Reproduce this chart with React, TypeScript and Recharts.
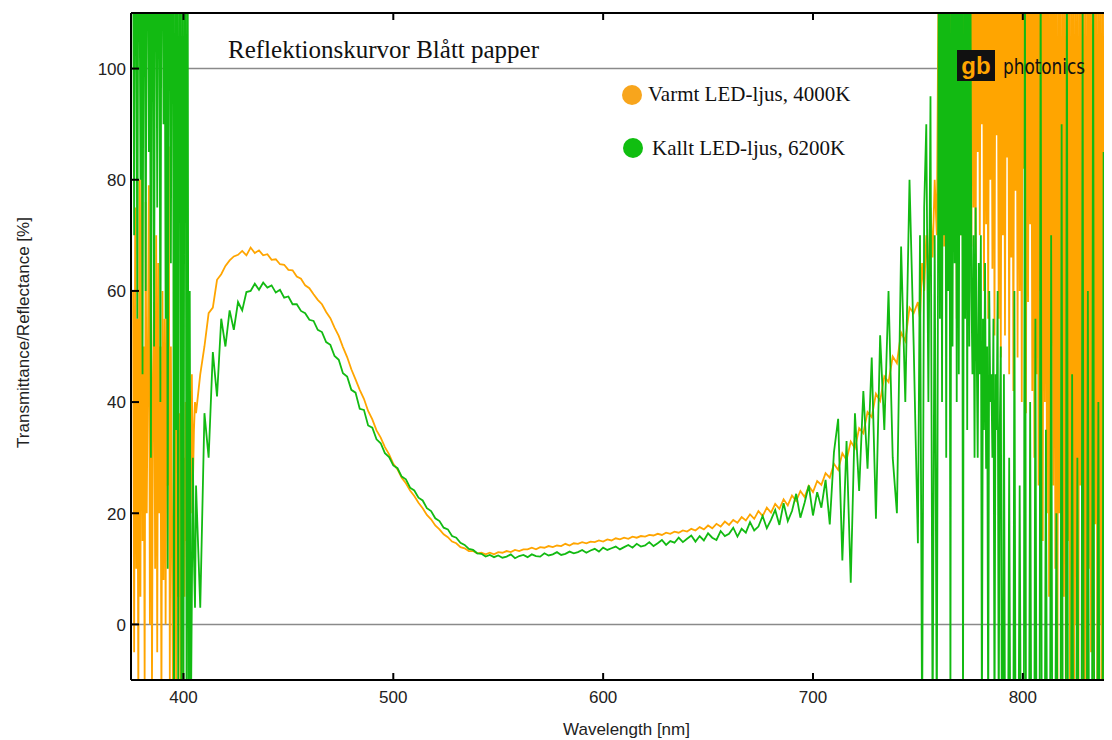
import React from 'react';
import { LineChart, Line, XAxis, YAxis, ReferenceLine } from 'recharts';

// Sampling grid (nm): 376–405.5 every 0.5, 406–748 every 2, 750–759 every 1, 760–842 every 0.5
const segLeft = { start: 376, step: 0.5 };
const segMid = { start: 406, step: 2 };
const segRightA = { start: 750, step: 1 };
const segRightB = { start: 760, step: 0.5 };

// Varmt LED-ljus, 4000K (orange)
const warmLeft = [
  60, -5, 75, 10, 55, -15, 80, 5, 86, 15,
  50, -10, 76, 20, 45, 79, 0, 65, -12, 45,
  58, 10, 70, -5, 65, 20, 50, -15, 60, 8,
  55, 0, 62, 25, 86, -10, 50, 15, -15, 42,
  45, -12, 55, 5, 38, -10, 45, -12, 30, 5,
  40, 15, 35, 8, 42, 20, 45, 25, 35, 40,
];
const warmMid = [
  38, 45, 50, 56, 57, 62, 63, 64.5, 65.5, 66.2,
  66.5, 67.2, 66.4, 67.8, 66.8, 67.3, 66.4, 66.6, 65.6, 65.7,
  64.8, 64.7, 63.8, 63.7, 62.6, 62.2, 61, 60.5, 59.4, 58.4,
  57.6, 56.2, 55.1, 53.4, 51.9, 49.9, 48.1, 45.9, 44.1, 42.2,
  40.6, 38.4, 36.9, 34.9, 33.6, 31.9, 30.6, 28.9, 27.9, 26.4,
  25.4, 24.1, 23.1, 21.9, 20.9, 19.7, 18.9, 17.8, 17.1, 16.2,
  15.7, 14.9, 14.6, 13.9, 13.7, 13.2, 13.2, 12.8, 12.9, 12.6,
  12.9, 12.6, 13, 12.9, 13.2, 13, 13.4, 13.2, 13.5, 13.5,
  13.8, 13.5, 13.9, 13.8, 14.1, 13.9, 14.2, 14.1, 14.5, 14.2,
  14.6, 14.5, 14.8, 14.6, 14.9, 14.8, 15.1, 14.9, 15.3, 15.1,
  15.5, 15.3, 15.6, 15.4, 15.8, 15.6, 15.9, 15.8, 16.1, 16,
  16.3, 16.1, 16.5, 16.3, 16.7, 16.5, 16.9, 16.7, 17.2, 16.9,
  17.5, 17.1, 17.8, 17.3, 18.1, 17.6, 18.5, 17.9, 18.8, 18.3,
  19.3, 18.7, 19.8, 19, 20.4, 19.5, 21, 20.1, 21.7, 20.8,
  22.5, 21.4, 23.2, 22.2, 24, 22.9, 24.9, 23.8, 25.8, 25.1,
  27.2, 26.4, 28.9, 27.8, 30.8, 29.6, 32.9, 31.7, 35.3, 34.4,
  38.2, 37.3, 41.5, 40.2, 44.6, 43.6, 48.2, 47, 52.5, 51,
  57, 56,
];
const warmRightA = [58, 55, 65, 60, 70, 62, 75, 66, 80, 70];
const warmRightB = [
  125, 75, 125, 82, 125, 68, 125, 90, 125, 72,
  125, 60, 125, 85, 125, 78, 125, 55, 125, 88,
  125, 70, 125, 58, 125, 80, 125, 65, 125, 92,
  125, 68, 125, 75, 125, 62, 125, 85, 125, 70,
  125, 90, 125, 60, 125, 72, 125, 55, 125, 80,
  125, 64, 125, 52, 125, 88, 125, 55, 125, 48,
  125, 70, 125, 52, 125, 84, 125, 45, 125, 66,
  125, 42, 125, 78, 125, 48, 125, 60, 125, 40,
  125, 82, 125, 38, 125, 58, 125, 72, 125, 42,
  125, 30, 125, 45, 125, 25, 125, 60, 125, 15,
  125, 40, 125, 20, 125, 5, 125, 50, 125, 25,
  125, 10, 125, -20, 125, 20, 125, -20, 125, 5,
  125, -20, 125, 15, 125, -20, 125, 5, 125, -20,
  125, 0, 125, -20, 125, 25, 125, -10, 125, -20,
  125, -20, 125, 10, 125, -5, 125, -20, 125, 18,
  125, -20, 125, 0, 125, -15, 125, -20, 125, 10,
  125, -20, 125, -15, 125,
];

// Kallt LED-ljus, 6200K (green)
const coldLeft = [
  125, 70, 125, 125, 55, 125, 125, 80, 125, 45,
  125, 125, 60, 125, 125, 85, 125, 30, 125, 125,
  50, 125, 125, 75, 125, 125, 40, 125, 125, 90,
  125, 55, 125, 10, 125, 125, 65, 125, 125, -20,
  125, 35, 125, -20, 125, 125, -20, 125, -20, 125,
  125, -20, 125, -20, 60, -20, 5, 30, 12, 3,
];
const coldMid = [
  25, 3, 38, 30, 49, 41, 55, 50, 56.5, 53,
  58, 56.5, 59.8, 60, 61.3, 60.2, 61.5, 60.6, 61, 59.7,
  60.2, 58.8, 59, 57.6, 57.6, 56.4, 56, 54.8, 54.6, 53,
  52.6, 50.8, 50.3, 48.3, 47.6, 45.2, 44.6, 42.2, 41.7, 38.8,
  38.6, 35.8, 35.4, 33.3, 32.6, 30.8, 30.1, 28.6, 28.1, 26.6,
  26.1, 24.6, 24.1, 22.8, 22.3, 20.9, 20.4, 19.1, 18.6, 17.4,
  17.1, 15.9, 15.6, 14.7, 14.3, 13.6, 13.4, 12.8, 12.7, 12.2,
  12.5, 12.1, 12.4, 12.0, 12.2, 12.6, 11.9, 12.3, 12.5, 12.1,
  12.6, 12.3, 12.2, 12.8, 12.4, 12.6, 13.0, 12.5, 12.7, 13.1,
  12.8, 13.0, 13.4, 12.9, 13.3, 13.6, 13.1, 13.8, 13.4, 13.7,
  14.0, 13.5, 13.9, 14.3, 13.8, 14.5, 14.0, 14.2, 14.8, 14.1,
  14.6, 15.2, 14.3, 15.0, 14.7, 15.6, 14.8, 15.4, 16.0, 14.9,
  15.9, 15.1, 16.4, 15.6, 15.2, 16.8, 15.9, 16.3, 17.4, 15.8,
  17.2, 16.5, 18.4, 16.9, 17.6, 19.5, 17.3, 18.8, 20.6, 17.9,
  21.8, 18.6, 20.4, 23.5, 19.2, 21.9, 25, 19.6, 23.8, 21,
  26, 18, 31, 37, 11.5, 33, 7.5, 38, 24, 42,
  28, 48, 19, 52, 35, 60, 30, 20, 68, 40,
  80, 50,
];
const coldRightA = [14.6, 70, -20, 75, 90, 40, 95, -20, 70, -20];
const coldRightB = [
  125, 55, 125, 40, 125, 70, 125, 30, 125, 60,
  125, -15, 125, 50, 125, 65, 125, 40, 125, 45,
  125, 70, 125, -20, 125, 55, 125, 35, 125, 50,
  125, 60, 45, 70, 30, 75, 50, 30, 65, 45,
  70, -20, 55, 35, 65, 28, 50, -20, 60, 40,
  45, 30, 55, -20, 45, 35, 60, -20, 35, 50,
  -20, -20, 45, -20, -20, -20, -20, 30, -20, -20,
  -20, -20, 60, -20, -20, -20, -20, 25, -20, -20,
  -20, -20, 125, -20, -20, -20, -20, 40, -20, -20,
  -20, -20, 55, -20, -20, -20, -20, 125, -20, -20,
  -20, -20, 35, -20, -20, -20, -20, 70, -20, -20,
  -20, -20, 20, -20, -20, -20, -20, 90, -20, -20,
  -20, -20, 125, -20, -20, -20, -20, 45, -20, -20,
  -20, -20, 30, -20, -20, -20, -20, 110, -20, -20,
  -20, -20, 60, -20, -20, -20, -20, 125, -20, -20,
  -20, -20, 40, -20, -20, -20, -20, 85, -20, -20,
  -20, -20, 125, -20, -20,
];

const xTicks = [400, 500, 600, 700, 800];
const yTicks = [0, 20, 40, 60, 80, 100];
const xDomain: [number, number] = [375, 842.5];
const yDomain: [number, number] = [-10, 110];

const WARM = '#FFA500';
const COLD = '#12BA12';

type Row = { wl: number; warm: number; cold: number };
const data: Row[] = [];
const addSeg = (seg: { start: number; step: number }, warm: number[], cold: number[]) => {
  warm.forEach((v, i) => data.push({ wl: seg.start + seg.step * i, warm: v, cold: cold[i] }));
};
addSeg(segLeft, warmLeft, coldLeft);
addSeg(segMid, warmMid, coldMid);
addSeg(segRightA, warmRightA, coldRightA);
addSeg(segRightB, warmRightB, coldRightB);

const SANS = '"Liberation Sans", Arial, sans-serif';
const SERIF = '"Liberation Serif", "Times New Roman", serif';

const BottomTick = (props: any) => {
  const { x, y, payload } = props;
  return (
    <g>
      <line x1={x} y1={y} x2={x} y2={y - 7} stroke="#000" strokeWidth={2} />
      <text x={x} y={y + 22.7} textAnchor="middle" fontSize={17} fontFamily={SANS} fill="#222">
        {payload.value}
      </text>
    </g>
  );
};

const TopTick = (props: any) => {
  const { x, y } = props;
  return <line x1={x} y1={y} x2={x} y2={y + 7} stroke="#000" strokeWidth={2} />;
};

const LeftTick = (props: any) => {
  const { x, y, payload } = props;
  return (
    <g>
      <line x1={x} y1={y} x2={x + 8} y2={y} stroke="#000" strokeWidth={2} />
      <text x={x - 5} y={y + 6.3} textAnchor="end" fontSize={17} fontFamily={SANS} fill="#222">
        {payload.value}
      </text>
    </g>
  );
};

export default function App() {
  return (
    <div style={{ position: 'relative', width: 1104, height: 732, overflow: 'hidden', background: '#fff' }}>
      <style>{'html,body{overflow:hidden;}'}</style>
      <LineChart width={1104} height={732} data={data} margin={{ top: 4, right: 0, bottom: 0, left: 0 }}>
        <XAxis
          dataKey="wl"
          type="number"
          domain={xDomain}
          allowDataOverflow
          ticks={xTicks}
          height={60}
          tickSize={0}
          tickMargin={0}
          tick={<BottomTick />}
          axisLine={{ stroke: '#000', strokeWidth: 2 }}
          tickLine={false}
        />
        <XAxis
          xAxisId="top"
          orientation="top"
          dataKey="wl"
          type="number"
          domain={xDomain}
          allowDataOverflow
          ticks={xTicks}
          height={1}
          tickSize={0}
          tickMargin={0}
          tick={<TopTick />}
          axisLine={{ stroke: '#000', strokeWidth: 2 }}
          tickLine={false}
        />
        <YAxis
          type="number"
          domain={yDomain}
          allowDataOverflow
          ticks={yTicks}
          width={123}
          tickSize={0}
          tickMargin={0}
          tick={<LeftTick />}
          axisLine={{ stroke: '#000', strokeWidth: 2 }}
          tickLine={false}
        />
        <ReferenceLine y={0} stroke="#8a8a8a" strokeWidth={1.5} />
        <ReferenceLine y={100} stroke="#8a8a8a" strokeWidth={1.5} />
        <Line
          type="linear"
          dataKey="warm"
          stroke={WARM}
          strokeWidth={1.8}
          dot={false}
          isAnimationActive={false}
        />
        <Line
          type="linear"
          dataKey="cold"
          stroke={COLD}
          strokeWidth={1.8}
          dot={false}
          isAnimationActive={false}
        />
      </LineChart>
      <svg
        width={1104}
        height={732}
        style={{ position: 'absolute', left: 0, top: 0, pointerEvents: 'none' }}
      >
        <text x={220} y={50} fontSize={25} fontFamily={SERIF} fill="#111">
          Reflektionskurvor Blått papper
        </text>
        <circle cx={624} cy={87} r={10} fill="#F8A51C" />
        <text x={640} y={92.7} fontSize={21} fontFamily={SERIF} fill="#111">
          Varmt LED-ljus, 4000K
        </text>
        <circle cx={625} cy={140} r={10} fill="#10BE10" />
        <text x={644} y={147} fontSize={21} fontFamily={SERIF} fill="#111">
          Kallt LED-ljus, 6200K
        </text>
        <rect x={949} y={42} width={38} height={31} fill="#111" />
        <text x={968} y={66} textAnchor="middle" fontSize={24} fontWeight="bold" fontFamily={SANS} fill={WARM}>
          gb
        </text>
        <text
          x={995}
          y={66}
          fontSize={22}
          fontFamily='"DejaVu Sans Condensed", "Liberation Sans Narrow", sans-serif'
          textLength={82}
          lengthAdjust="spacingAndGlyphs"
          fill="#111"
        >
          photonics
        </text>
        <text x={618.5} y={727} textAnchor="middle" fontSize={17} fontFamily={SANS} fill="#222">
          Wavelength [nm]
        </text>
        <text
          x={0}
          y={0}
          transform="translate(21,324.5) rotate(-90)"
          textAnchor="middle"
          fontSize={17}
          fontFamily={SANS}
          fill="#222"
        >
          Transmittance/Reflectance [%]
        </text>
      </svg>
    </div>
  );
}
